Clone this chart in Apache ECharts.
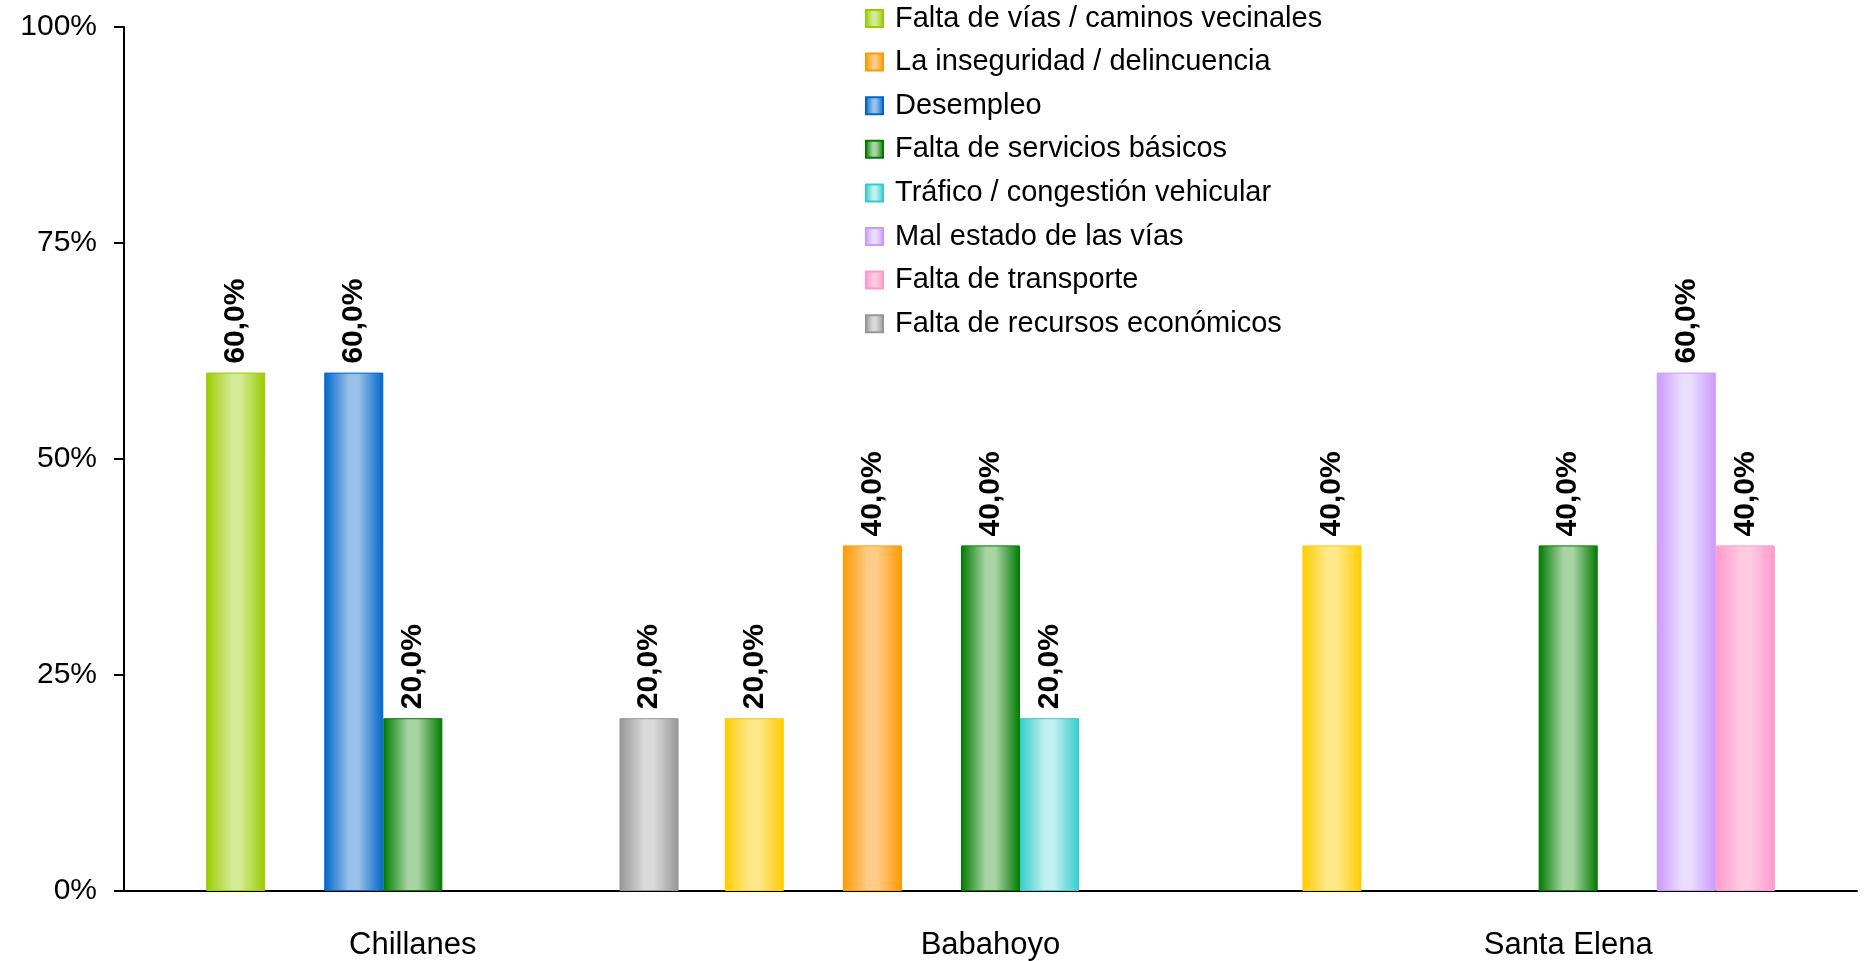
<!DOCTYPE html>
<html>
<head>
<meta charset="utf-8">
<script src="https://cdn.jsdelivr.net/npm/echarts@6/dist/echarts.min.js"></script>
<style>
  html, body { margin: 0; padding: 0; background: #fff; }
  #grafico { width: 1866px; height: 961px; }
</style>
</head>
<body>
<div id="grafico"></div>
<script>
// ciudades
var categorias = ['Chillanes', 'Babahoyo', 'Santa Elena'];
// nombres de las series (la primera no aparece en la leyenda)
var nombres = [
  'Otro problema',
  'Falta de vías / caminos vecinales',
  'La inseguridad / delincuencia',
  'Desempleo',
  'Falta de servicios básicos',
  'Tráfico / congestión vehicular',
  'Mal estado de las vías',
  'Falta de transporte',
  'Falta de recursos económicos'
];
// porcentajes por serie (null = sin barra)
var otroProblema     = [null, 20, 40];
var faltaVias        = [60, null, null];
var inseguridad      = [null, 40, null];
var desempleo        = [60, null, null];
var serviciosBasicos = [20, 40, 40];
var trafico          = [null, 20, null];
var malEstadoVias    = [null, null, 60];
var faltaTransporte  = [null, null, 40];
var recursosEcon     = [20, null, null];
var ticksY = [0, 25, 50, 75, 100];

var valores = [otroProblema, faltaVias, inseguridad, desempleo, serviciosBasicos,
               trafico, malEstadoVias, faltaTransporte, recursosEcon];

// colores: [borde oscuro, centro claro]
var colores = [
  ['#ffcc00', '#ffe88a'],
  ['#99cc00', '#d4ea94'],
  ['#ff9900', '#ffcc88'],
  ['#0066cc', '#98c0e8'],
  ['#007a00', '#a8d4a4'],
  ['#33cccc', '#c2f0f0'],
  ['#cc99ff', '#eadeff'],
  ['#ff99cc', '#ffcae2'],
  ['#969696', '#dadada']
];

function degradado(c) {
  return new echarts.graphic.LinearGradient(0, 0, 1, 0, [
    { offset: 0, color: c[0] },
    { offset: 0.42, color: c[1] },
    { offset: 0.58, color: c[1] },
    { offset: 1, color: c[0] }
  ]);
}

var series = nombres.map(function (n, i) {
  return {
    name: n,
    type: 'bar',
    barGap: 0,
    barCategoryGap: '8%',
    data: valores[i],
    itemStyle: { color: degradado(colores[i]), borderColor: colores[i][0], borderWidth: 1 },
    label: {
      show: true,
      position: 'top',
      rotate: 90,
      align: 'left',
      verticalAlign: 'middle',
      distance: 9,
      fontFamily: 'Liberation Sans',
      fontWeight: 'bold',
      fontSize: 30,
      color: '#000',
      formatter: function (p) { return p.value.toFixed(1).replace('.', ',') + '%'; }
    }
  };
});

var chart = echarts.init(document.getElementById('grafico'));
chart.setOption({
  animation: false,
  textStyle: { fontFamily: 'Liberation Sans' },
  legend: {
    data: nombres.slice(1),
    orient: 'vertical',
    left: 860,
    top: -1,
    itemWidth: 17,
    itemHeight: 17,
    itemGap: 14.6,
    icon: 'rect',
    textStyle: { fontSize: 29, lineHeight: 29, color: '#000', padding: [0, 0, 0, 7] }
  },
  grid: { left: 124, right: 9, top: 27, bottom: 65 },
  xAxis: {
    type: 'category',
    data: categorias,
    axisLine: { lineStyle: { color: '#000', width: 2 } },
    axisTick: { length: 11, lineStyle: { color: '#000', width: 2 } },
    axisLabel: { fontSize: 31, color: '#000', margin: 39 }
  },
  yAxis: {
    type: 'value',
    min: ticksY[0],
    max: ticksY[ticksY.length - 1],
    interval: 25,
    axisLine: { show: true, lineStyle: { color: '#000', width: 2 } },
    axisTick: { show: true, length: 10, lineStyle: { color: '#000', width: 2 } },
    splitLine: { show: false },
    axisLabel: { fontSize: 30, color: '#000', margin: 27, formatter: '{value}%' }
  },
  series: series
});
</script>
</body>
</html>
